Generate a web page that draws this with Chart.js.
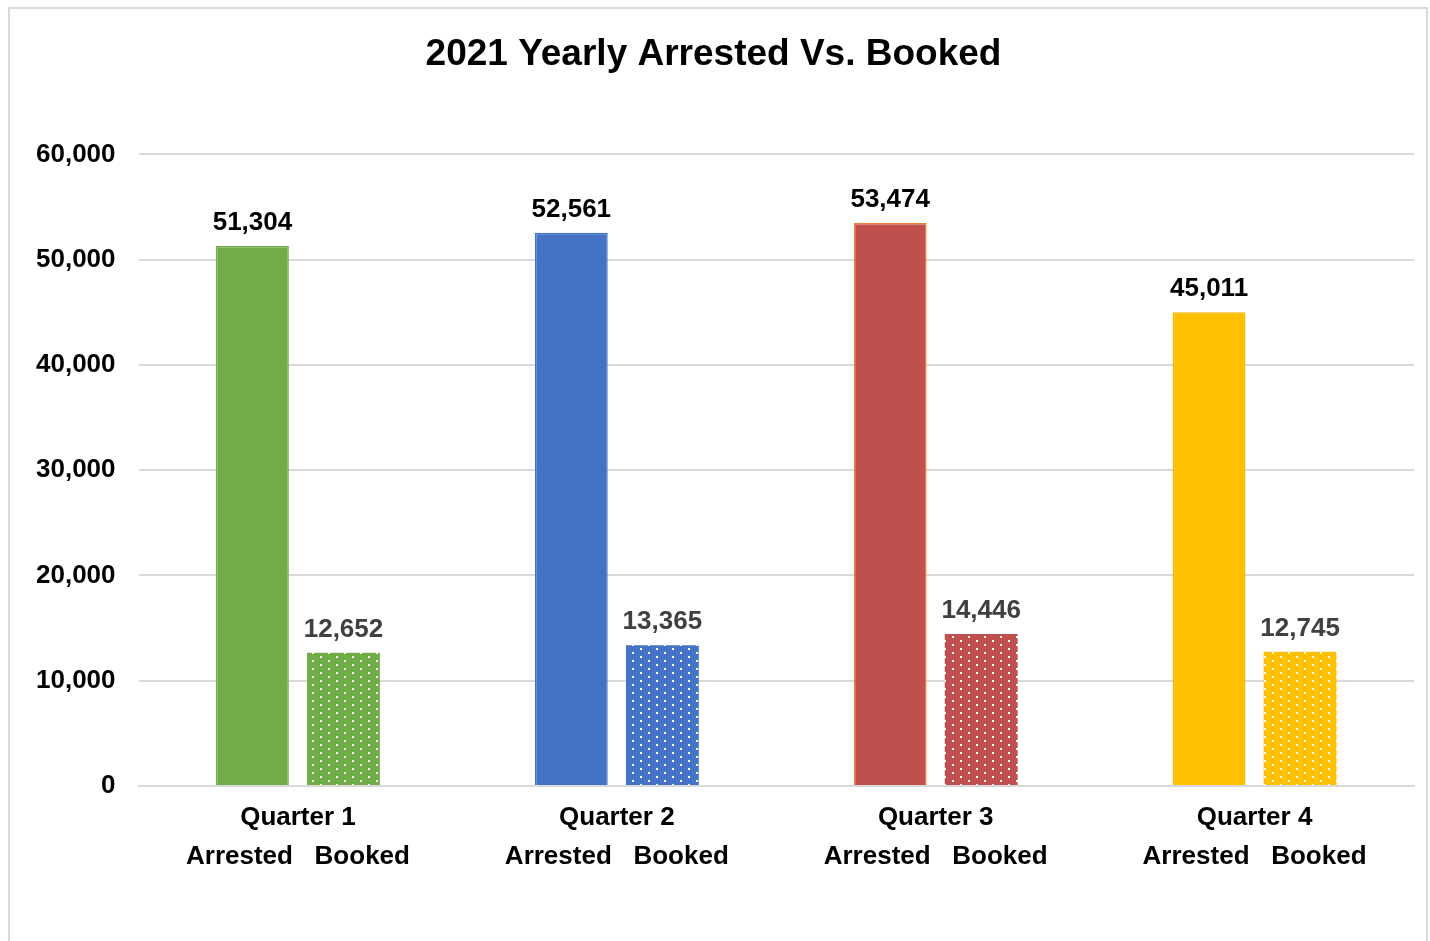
<!DOCTYPE html>
<html>
<head>
<meta charset="utf-8">
<script src="https://cdn.jsdelivr.net/npm/chart.js@4.4.0/dist/chart.umd.min.js"></script>
<style>
  html, body { margin: 0; padding: 0; background: #fff; }
  #wrap { position: relative; width: 1430px; height: 941px; }
  #frame { position: absolute; left: 8px; top: 7px; width: 1420px; height: 950px;
           border: 2px solid #d9d9d9; box-sizing: border-box; pointer-events: none; }
</style>
</head>
<body>
<div id="wrap">
  <canvas id="myChart" width="1430" height="941"></canvas>
  <div id="frame"></div>
</div>
<script>
// data
const quarters = ['Quarter 1', 'Quarter 2', 'Quarter 3', 'Quarter 4'];
const subLabel = 'Arrested   Booked';
const arrested = [51304, 52561, 53474, 45011];
const booked = [12652, 13365, 14446, 12745];
const yTicks = [0, 10000, 20000, 30000, 40000, 50000, 60000];

const barColors = ['#70AD47', '#4472C4', '#C0504D', '#FFC000'];
const arrestedBorders = ['#70AD47', '#4472C4', '#ED7D31', '#F2B800'];

const fontFamily = '"Liberation Sans", Arial, sans-serif';

// small dotted pattern for the Booked bars
function dotPattern(color) {
  let c = document.createElement('canvas');
  c.width = 16;
  c.height = 8;
  let g = c.getContext('2d');
  g.fillStyle = color;
  g.fillRect(0, 0, 16, 8);
  g.fillStyle = '#ffffff';
  g.fillRect(0, 0, 2, 2);
  g.fillRect(8, 4, 2, 2);
  return g.createPattern(c, 'repeat');
}

// value labels above each bar
const valueLabels = {
  id: 'valueLabels',
  afterDatasetsDraw(chart) {
    let ctx = chart.ctx;
    ctx.save();
    ctx.textAlign = 'center';
    ctx.textBaseline = 'alphabetic';
    ctx.font = 'bold 26px ' + fontFamily;
    chart.data.datasets.forEach(function (ds, i) {
      ctx.fillStyle = i === 0 ? '#000000' : '#404040';
      chart.getDatasetMeta(i).data.forEach(function (bar, j) {
        ctx.fillText(ds.data[j].toLocaleString('en-US'), bar.x, bar.y - 16);
      });
    });
    ctx.restore();
  }
};

const ctx = document.getElementById('myChart').getContext('2d');
new Chart(ctx, {
  type: 'bar',
  data: {
    labels: quarters.map((q) => [q, subLabel]),
    datasets: [
      {
        label: 'Arrested',
        data: arrested,
        backgroundColor: barColors,
        borderColor: arrestedBorders,
        borderWidth: 1.5,
        categoryPercentage: 0.571,
        barPercentage: 0.8,
      },
      {
        label: 'Booked',
        data: booked,
        backgroundColor: barColors.map(dotPattern),
        borderWidth: 0,
        categoryPercentage: 0.571,
        barPercentage: 0.8,
      },
    ],
  },
  options: {
    responsive: false,
    animation: false,
    layout: { padding: { left: 13, right: 16, top: 0, bottom: 53 } },
    plugins: {
      legend: { display: false },
      tooltip: { enabled: false },
      title: {
        display: true,
        text: '2021 Yearly Arrested Vs. Booked',
        color: '#000',
        font: { family: fontFamily, size: 37, weight: 'bold' },
        padding: { top: 33, bottom: 77 },
      },
    },
    scales: {
      x: {
        grid: { display: false, drawTicks: false },
        border: { color: '#d9d9d9', width: 2 },
        ticks: {
          color: '#000',
          padding: 12,
          maxRotation: 0,
          font: { family: fontFamily, size: 26, weight: 'bold', lineHeight: 1.5 },
        },
      },
      y: {
        min: 0,
        max: 60000,
        afterBuildTicks: function (axis) {
          axis.ticks = yTicks.map((v) => ({ value: v }));
        },
        grid: { color: '#d9d9d9', lineWidth: 2, drawTicks: false },
        border: { display: false },
        ticks: {
          color: '#000',
          padding: 23,
          font: { family: fontFamily, size: 26, weight: 'bold' },
          callback: (v) => v.toLocaleString('en-US'),
        },
      },
    },
  },
  plugins: [valueLabels],
});
</script>
</body>
</html>
